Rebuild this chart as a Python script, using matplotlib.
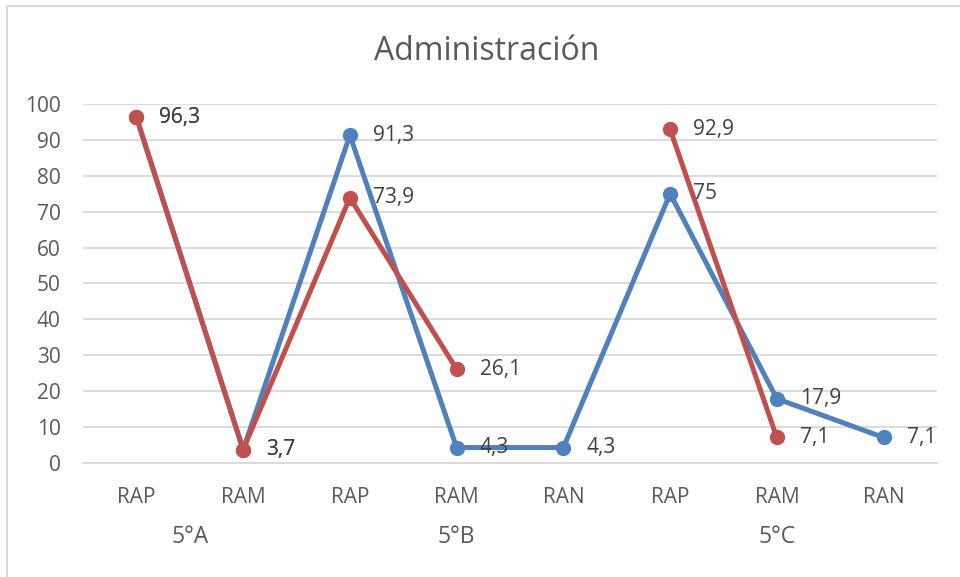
import numpy as np
import matplotlib.pyplot as plt
from matplotlib.lines import Line2D

# categories
CATS = ["RAP", "RAM", "RAP", "RAM", "RAN", "RAP", "RAM", "RAN"]
GROUPS = ["5°A", "5°B", "5°C"]
GROUP_SIZES = [2, 3, 3]

# series values (None = no point)
BLUE = [96.3, 3.7, 91.3, 4.3, 4.3, 75, 17.9, 7.1]
RED = [96.3, 3.7, 73.9, 26.1, None, 92.9, 7.1, None]

C_BLUE = "#4F81BD"
C_RED = "#C0504D"
C_TEXT = "#595959"
C_GRID = "#D9D9D9"

plt.rcParams["font.family"] = ["Open Sans", "DejaVu Sans"]

fig = plt.figure(figsize=(9.6, 5.77), dpi=100)
ax = fig.add_axes([0.0865, 0.1976, 0.8895, 0.6222])

x = np.arange(len(CATS))


def draw(vals, color, z):
    y = np.array([np.nan if v is None else v for v in vals], dtype=float)
    ax.plot(x, y, color=color, lw=3.6, marker="o", ms=10, zorder=z,
            solid_capstyle="round")
    for xi, v in zip(x, vals):
        if v is None:
            continue
        lab = f"{v:g}".replace(".", ",")
        ax.annotate(lab, (xi, v), xytext=(16.5, 0), textcoords="offset points",
                    ha="left", va="center", fontsize=15, color="#404040",
                    zorder=10)


draw(BLUE, C_BLUE, 3)
draw(RED, C_RED, 4)

ax.set_xlim(-0.5, len(CATS) - 0.5)
ax.set_ylim(0, 100)
ax.set_yticks(range(0, 101, 10))
ax.yaxis.grid(True, color=C_GRID, lw=1.3)
ax.set_axisbelow(True)
for s in ["top", "right", "left"]:
    ax.spines[s].set_visible(False)
ax.spines["bottom"].set_color(C_GRID)
ax.spines["bottom"].set_linewidth(1.3)
ax.tick_params(axis="y", length=0, labelsize=15, labelcolor=C_TEXT, pad=16)
ax.set_xticks(x)
ax.set_xticklabels(CATS)
ax.tick_params(axis="x", length=0, labelsize=15, labelcolor=C_TEXT, pad=17)

# group labels under categories
start = 0
for g, n in zip(GROUPS, GROUP_SIZES):
    center = start + (n - 1) / 2
    ax.annotate(g, (center, 0), xycoords=("data", "axes fraction"),
                xytext=(0, -53.5), textcoords="offset points",
                ha="center", va="center", fontsize=16.5, color=C_TEXT)
    start += n

fig.text(0.507, 0.911, "Administración", ha="center", va="center",
         fontsize=23, color=C_TEXT)

# chart frame edges
fig.add_artist(Line2D([0.007, 1.0], [0.99, 0.99], color=C_GRID, lw=1.5))
fig.add_artist(Line2D([0.0075, 0.0075], [0.0, 0.99], color=C_GRID, lw=1.5))

fig.savefig("out.png", dpi=100)
